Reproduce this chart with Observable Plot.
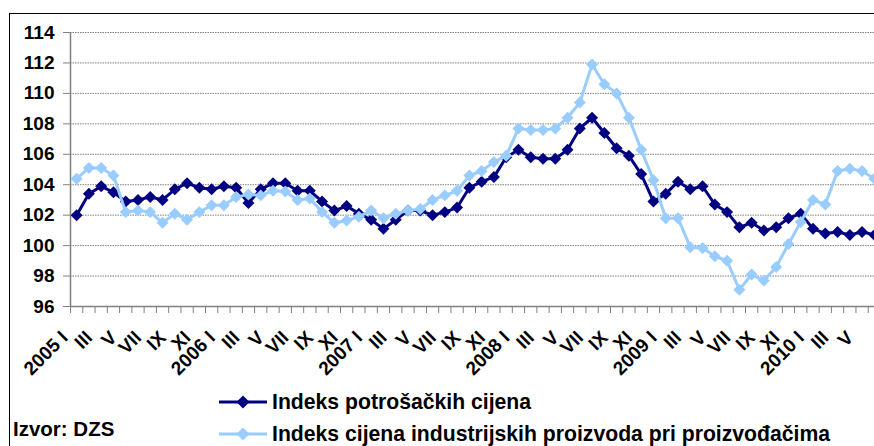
<!DOCTYPE html>
<html>
<head>
<meta charset="utf-8">
<script src="https://cdn.jsdelivr.net/npm/d3@7"></script>
<script src="https://cdn.jsdelivr.net/npm/@observablehq/plot@0.6"></script>
<style>
  html, body { margin: 0; padding: 0; background: #fff; }
  #wrap { position: relative; width: 874px; height: 446px; overflow: hidden; font-family: "Liberation Sans", Arial, sans-serif; font-weight: bold; }
  #frame { position: absolute; left: 9px; top: 13px; width: 1000px; height: 1000px; border-left: 1.5px solid #000; border-top: 1.5px solid #000; box-sizing: border-box; pointer-events: none; }
  #chart { position: absolute; left: 0; top: 0; width: 890px; }
  #chart svg { max-width: none !important; width: 890px; height: 385px; }
  #legend { position: absolute; left: 0; top: 385px; width: 874px; height: 61px; }
  .src { position: absolute; left: 13px; top: 44px; transform: translateY(-50%); font-size: 20.5px; }
  .item { position: absolute; left: 218px; transform: translateY(-50%); display: flex; align-items: center; font-size: 21.2px; white-space: nowrap; }
  .item svg { margin-right: 4px; }
</style>
</head>
<body>
<div id="wrap">
  <div id="chart"></div>
  <div id="legend"></div>
  <div id="frame"></div>
</div>
<script>
// ---- data ----
const years = [2005, 2006, 2007, 2008, 2009, 2010];
const months = ["I","II","III","IV","V","VI","VII","VIII","IX","X","XI","XII"];
const nMonths = 66; // 2005 I .. 2010 VI

const seriesNames = [
  "Indeks potrošačkih cijena",
  "Indeks cijena industrijskih proizvoda pri proizvođačima"
];
const seriesColors = ["#000080", "#99CCFF"];

const cpi = [
  102.0, 103.4, 103.9, 103.5, 102.9, 103.0, 103.2, 103.0, 103.7, 104.1, 103.8, 103.7,
  103.9, 103.8, 102.8, 103.7, 104.1, 104.1, 103.6, 103.6, 102.9, 102.3, 102.6, 102.1,
  101.7, 101.1, 101.7, 102.3, 102.3, 102.0, 102.2, 102.5, 103.8, 104.2, 104.5, 105.8,
  106.3, 105.8, 105.7, 105.7, 106.3, 107.7, 108.4, 107.4, 106.4, 105.9, 104.7, 102.9,
  103.4, 104.2, 103.7, 103.9, 102.7, 102.2, 101.2, 101.5, 101.0, 101.2, 101.8, 102.1,
  101.1, 100.8, 100.9, 100.7, 100.9, 100.7
];
const ppi = [
  104.4, 105.1, 105.1, 104.6, 102.2, 102.3, 102.2, 101.5, 102.1, 101.7, 102.2, 102.65,
  102.65, 103.2, 103.35, 103.3, 103.6, 103.55, 103.0, 103.1, 102.2, 101.5, 101.65, 101.9,
  102.3, 101.8, 102.1, 102.3, 102.4, 103.0, 103.3, 103.6, 104.6, 104.9, 105.5, 105.9,
  107.7, 107.6, 107.6, 107.7, 108.4, 109.4, 111.9, 110.6, 110.0, 108.4, 106.3, 104.3,
  101.8, 101.8, 99.9, 99.85, 99.3, 99.0, 97.1, 98.1, 97.7, 98.6, 100.1, 101.55,
  103.0, 102.7, 104.9, 105.05, 104.9, 104.4
];
const yTicks = [96, 98, 100, 102, 104, 106, 108, 110, 112, 114];

// ---- build ----
const catLabels = d3.range(nMonths).map(i => {
  const m = months[i % 12];
  return (i % 12 === 0) ? `${years[Math.floor(i / 12)]} ${m}` : m;
});
const rows = (vals) => vals.map((v, i) => ({pos: i + 0.5, v}));
const cpiRows = rows(cpi), ppiRows = rows(ppi);
const labelPos = d3.range(0, nMonths, 2).map(i => i + 0.5);
const bounds = d3.range(0, nMonths + 1);

const plot = Plot.plot({
  width: 890,
  height: 385,
  marginLeft: 70,
  marginRight: 10,
  marginTop: 32,
  marginBottom: 79,
  style: {fontFamily: "'Liberation Sans', Arial, sans-serif", fontWeight: "bold", color: "#000", background: "transparent", maxWidth: "none"},
  x: {type: "linear", domain: [0, nMonths], label: null},
  y: {domain: [96, 114], label: null},
  marks: [
    Plot.gridY(yTicks, {stroke: "#808080", strokeOpacity: 1, strokeDasharray: "1.5,1"}),
    Plot.axisY({ticks: yTicks, tickSize: 7, tickPadding: 9, stroke: "#808080", fill: "#000", fontSize: 19, fontWeight: "bold", label: null}),
    Plot.axisX({ticks: bounds, tickSize: 7, stroke: "#808080", tickFormat: () => "", label: null}),
    Plot.axisX({ticks: labelPos, tickSize: 0, tickPadding: 0, tickRotate: -45, tickFormat: d => catLabels[Math.floor(d)], fontSize: 19, fontWeight: "bold", fill: "#000", dx: -12, dy: 28, label: null}),
    Plot.ruleX([0], {stroke: "#808080", strokeWidth: 1.5}),
    Plot.ruleY([96], {stroke: "#808080", strokeWidth: 1.5}),
    Plot.line(cpiRows, {x: "pos", y: "v", stroke: seriesColors[0], strokeWidth: 3}),
    Plot.dot(cpiRows, {x: "pos", y: "v", symbol: "diamond2", r: 5.4, fill: seriesColors[0], stroke: "none"}),
    Plot.line(ppiRows, {x: "pos", y: "v", stroke: seriesColors[1], strokeWidth: 3}),
    Plot.dot(ppiRows, {x: "pos", y: "v", symbol: "diamond2", r: 5.4, fill: seriesColors[1], stroke: "none"})
  ]
});
document.getElementById("chart").appendChild(plot);

// ---- legend ----
const legend = document.getElementById("legend");
const src = document.createElement("div");
src.className = "src";
src.textContent = "Izvor: DZS";
legend.appendChild(src);
const rowsY = [17, 49];
seriesNames.forEach((name, k) => {
  const it = document.createElement("div");
  it.className = "item";
  it.style.top = rowsY[k] + "px";
  it.innerHTML = `<svg width="50" height="16"><line x1="1" y1="8" x2="49" y2="8" stroke="${seriesColors[k]}" stroke-width="3"/><path d="M25,1.5L31.5,8L25,14.5L18.5,8Z" fill="${seriesColors[k]}"/></svg><span>${name}</span>`;
  legend.appendChild(it);
});
</script>
</body>
</html>
